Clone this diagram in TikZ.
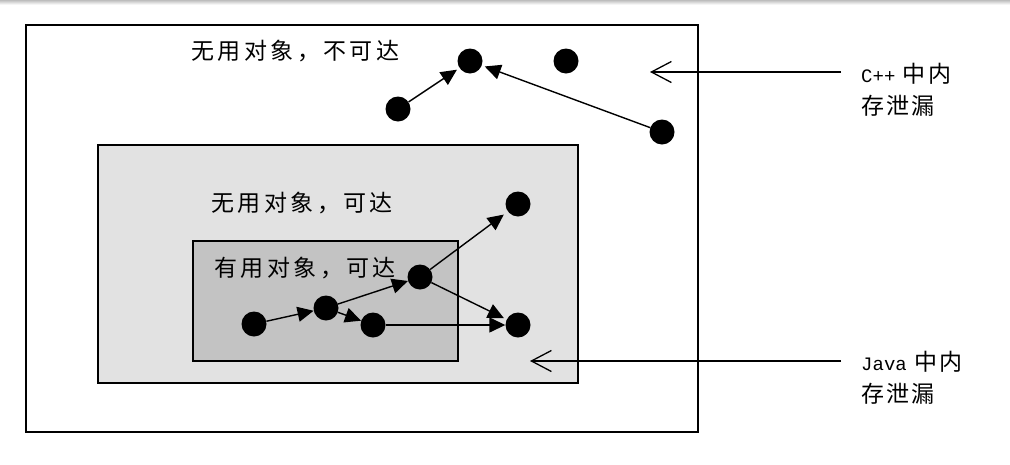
\documentclass[tikz,border=0pt]{standalone}
\usepackage{fontspec}
\newfontfamily\cjk[LetterSpace=15]{Noto Sans CJK SC}
\newfontfamily\cjkl[LetterSpace=10]{Noto Sans CJK SC}
\newfontfamily\mono{Liberation Mono}
\usetikzlibrary{arrows.meta}
\definecolor{hatch}{HTML}{E2E2E2}
\definecolor{inner}{HTML}{C3C3C3}
\definecolor{strip}{HTML}{BDBDBD}
\begin{document}
\begin{tikzpicture}[x=1pt,y=-1pt,
  frame/.style={draw=black,line width=2pt},
  dot/.style={circle,fill=black,inner sep=0pt,minimum size=25pt},
  arr/.style={line width=1.4pt,-{Triangle[length=16pt,width=15pt]}},
  barb/.style={line width=1.4pt,-{Straight Barb[length=20pt,width=21pt,line width=1.3pt]}},
  zone/.style={inner sep=0pt,anchor=west,font=\cjk\fontsize{23}{26}\selectfont},
  lbl/.style={inner sep=0pt,anchor=north west,align=left,font=\cjkl\fontsize{23}{32}\selectfont}]
\useasboundingbox (0,0) rectangle (1010,464);
\fill[white] (0,0) rectangle (1010,464);
\shade[top color=strip,bottom color=white!85!strip] (0,0) rectangle (1010,4);
% boxes
\draw[frame,fill=white] (26,25) rectangle (698,432);
\draw[frame,fill=hatch] (98,145) rectangle (578,383);
\draw[frame,fill=inner] (193,241) rectangle (458,361);
% zone labels
\node[zone] (t1) at (191,51) {无用对象，不可达};
\node[zone] (t2) at (211,203) {无用对象，可达};
\node[zone] (t3) at (214,268) {有用对象，可达};
% dots
\node[dot] (a1) at (470,61) {};
\node[dot] (a2) at (566,61) {};
\node[dot] (a3) at (398,109) {};
\node[dot] (a4) at (662,132) {};
\node[dot] (b1) at (518,204) {};
\node[dot] (b2) at (420,277) {};
\node[dot] (b3) at (326,308) {};
\node[dot] (b4) at (254,324) {};
\node[dot] (b5) at (373,325) {};
\node[dot] (b6) at (518,325) {};
% arrows
\draw[arr,shorten >=3pt] (a3) -- (a1);
\draw[arr,shorten >=3pt] (a4) -- (a1);
\draw[arr] (b4) -- (b3);
\draw[arr] (b3) -- (b2);
\draw[arr] (b3) -- (b5);
\draw[arr,shorten >=5pt] (b2) -- (b1);
\draw[arr,shorten >=3pt] (b2) -- (b6);
\draw[arr] (b5) -- (b6);
% side labels
\coordinate (c1) at (841,72);
\coordinate (c2) at (650,72);
\coordinate (j1) at (841,361);
\coordinate (j2) at (530,361);
\draw[barb] (c1) -- (c2);
\draw[barb] (j1) -- (j2);
\node[lbl] (cpp) at (861,63) {{\mono\fontsize{19}{26}\selectfont C++} 中内\\存泄漏};
\node[lbl] (java) at (861,351) {{\mono\fontsize{19}{26}\selectfont Java} 中内\\存泄漏};
\end{tikzpicture}
\end{document}
